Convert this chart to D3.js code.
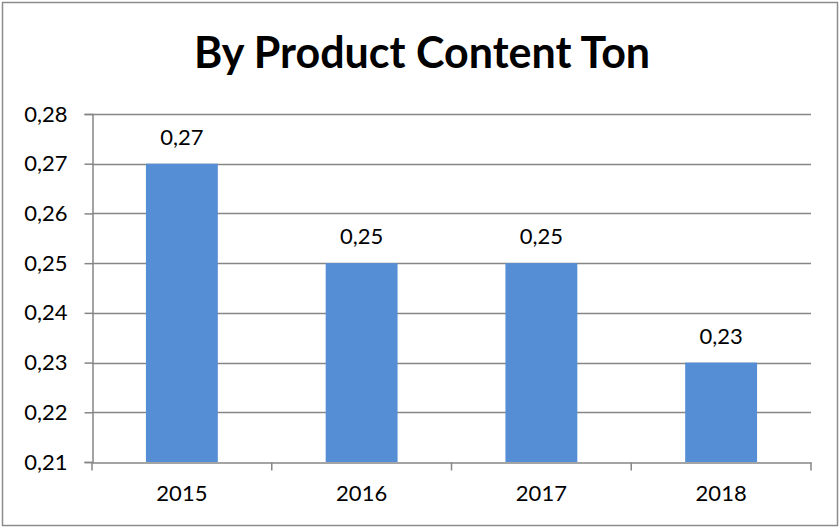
<!DOCTYPE html>
<html>
<head>
<meta charset="utf-8">
<script src="https://cdn.jsdelivr.net/npm/d3@7"></script>
<style>
  body { margin: 0; background: #fff; }
  svg { display: block; font-family: Lato, "Open Sans", sans-serif; }
</style>
</head>
<body>
<svg id="chart" width="840" height="528"></svg>
<script>
// data
const years = ["2015", "2016", "2017", "2018"];
const tons = [0.27, 0.25, 0.25, 0.23];
const yTicks = [0.21, 0.22, 0.23, 0.24, 0.25, 0.26, 0.27, 0.28];

const svg = d3.select("#chart");
const margin = { left: 92, right: 29, top: 114, bottom: 66 };
const W = 840, H = 528;

const fmt = v => d3.format(".2f")(v).replace(".", ",");

// outer frame
svg.append("rect")
  .attr("x", 2.5).attr("y", 2.5)
  .attr("width", W - 5).attr("height", H - 5)
  .attr("fill", "#fff").attr("stroke", "#8c8c8c").attr("stroke-width", 1.5);

// title
svg.append("text")
  .attr("x", 422).attr("y", 68)
  .attr("text-anchor", "middle")
  .attr("font-size", "43px").attr("font-weight", "bold")
  .attr("fill", "#000")
  .text("By Product Content Ton");

const x = d3.scaleBand()
  .domain(years)
  .range([margin.left, W - margin.right]);

const y = d3.scaleLinear()
  .domain([0.21, 0.28])
  .range([H - margin.bottom, margin.top]);

// gridlines
svg.append("g")
  .selectAll("line")
  .data(yTicks.slice(1))
  .join("line")
  .attr("x1", margin.left).attr("x2", W - margin.right)
  .attr("y1", d => Math.round(y(d)) + 0.5).attr("y2", d => Math.round(y(d)) + 0.5)
  .attr("stroke", "#868686").attr("stroke-width", 1.5);

// bars
const barW = x.bandwidth() * 0.4;
svg.append("g")
  .selectAll("rect")
  .data(years)
  .join("rect")
  .attr("x", (d, i) => x(d) + (x.bandwidth() - barW) / 2)
  .attr("y", (d, i) => y(tons[i]))
  .attr("width", barW)
  .attr("height", (d, i) => y(0.21) - y(tons[i]))
  .attr("fill", "#558ED5");

// data labels
svg.append("g")
  .selectAll("text")
  .data(years)
  .join("text")
  .attr("x", d => x(d) + x.bandwidth() / 2)
  .attr("y", (d, i) => y(tons[i]) - 19)
  .attr("text-anchor", "middle")
  .attr("font-size", "22px").attr("fill", "#000")
  .text((d, i) => fmt(tons[i]));

// y axis
const yAxis = svg.append("g")
  .attr("transform", `translate(${margin.left + 0.5},0)`)
  .call(d3.axisLeft(y).tickValues(yTicks).tickFormat(fmt).tickSize(8).tickPadding(17));
yAxis.select(".domain").attr("stroke", "#868686").attr("stroke-width", 1.5);
yAxis.selectAll(".tick line").attr("stroke", "#868686").attr("stroke-width", 1.5);
yAxis.selectAll("text").attr("font-size", "22px").attr("fill", "#000")
  .attr("font-family", "Lato, 'Open Sans', sans-serif");

// x axis
const xAxis = svg.append("g")
  .attr("transform", `translate(0,${Math.round(y(0.21)) + 0.5})`)
  .call(d3.axisBottom(x).tickSize(0).tickPadding(23));
xAxis.select(".domain").attr("stroke", "#868686").attr("stroke-width", 1.5);
xAxis.selectAll("text").attr("font-size", "22px").attr("fill", "#000")
  .attr("font-family", "Lato, 'Open Sans', sans-serif");

// category separator ticks below axis
const seps = years.map(d => x(d)).concat([x.range()[1]]);
xAxis.append("g")
  .selectAll("line")
  .data(seps)
  .join("line")
  .attr("x1", d => d).attr("x2", d => d)
  .attr("y1", 0).attr("y2", 8)
  .attr("stroke", "#868686").attr("stroke-width", 1.5);
</script>
</body>
</html>
